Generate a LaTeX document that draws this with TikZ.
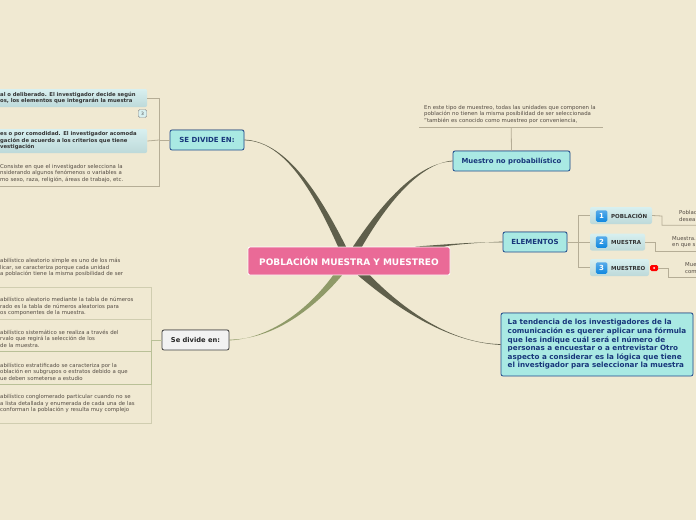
\documentclass[tikz,border=0pt]{standalone}
\usepackage{fontspec}
\setmainfont{DejaVu Sans}
\usepackage{xcolor}
\usetikzlibrary{shadows,calc}
\definecolor{paper}{HTML}{F0E9D2}
\definecolor{rootpink}{HTML}{EA6A97}
\definecolor{topicteal}{HTML}{A9E9E3}
\definecolor{topicblue}{HTML}{1F4A8C}
\definecolor{textblue}{HTML}{17367A}
\definecolor{subgrey}{HTML}{544C44}
\definecolor{branchdark}{HTML}{5F5F4B}
\definecolor{brancholive}{HTML}{8F9A68}
\definecolor{linetan}{HTML}{B5AD96}
\definecolor{lineolive}{HTML}{B9C097}
\definecolor{linepale}{HTML}{D0CDB0}
\definecolor{tiletop}{HTML}{D8F0F0}
\definecolor{tilebottom}{HTML}{BDD9D9}
\definecolor{iconblue}{HTML}{1088E0}

\begin{document}
\begin{tikzpicture}[
    x=1pt, y=-1pt,
    rootbox/.style={rectangle, draw=white, line width=0.8pt, fill=rootpink, rounded corners=2pt,
                minimum width=202pt, minimum height=28pt, inner sep=0pt, text=white,
                font=\fontsize{9}{11}\selectfont\bfseries},
    topic/.style={rectangle, draw=topicblue, line width=0.8pt, fill=topicteal, rounded corners=2pt,
                inner sep=0pt, text=textblue, font=\fontsize{7}{8}\selectfont\bfseries,
                drop shadow={opacity=.25, shadow xshift=.4pt, shadow yshift=.8pt}},
    greybox/.style={topic, draw=black!75, fill=black!5, text=black!85},
    tile/.style={rectangle, rounded corners=2pt, top color=tiletop, bottom color=tilebottom,
                inner sep=0pt, font=\fontsize{5.3}{6.5}\selectfont\bfseries, text=black!80},
    sidetile/.style={tile, anchor=west, inner xsep=5pt, inner ysep=0pt, align=left, text width=142pt},
    tilelabel/.style={anchor=west, inner sep=0pt, font=\fontsize{5.5}{6.5}\selectfont\bfseries, text=black!80},
    subtext/.style={rectangle, anchor=west, inner xsep=5pt, inner ysep=0pt, align=left,
                font=\fontsize{5.4}{6.5}\selectfont, text=subgrey},
    numicon/.style={rectangle, rounded corners=1.5pt, top color=iconblue!70!white, bottom color=iconblue, text=white, inner sep=0pt,
                minimum size=11.5pt, font=\fontsize{7}{8}\selectfont\bfseries},
    tan/.style={draw=linetan, line width=0.8pt},
    olive/.style={draw=lineolive, line width=0.8pt},
    pale/.style={draw=linepale, line width=0.8pt},
]
    \useasboundingbox[fill=paper] (0,0) rectangle (696,520);

    \node[rootbox] (root) at (349,261) {POBLACIÓN MUESTRA Y MUESTREO};
    \node[topic, minimum width=74pt, minimum height=20pt] (sedivide) at (207,140) {SE DIVIDE EN:};
    \node[topic, minimum width=117pt, minimum height=20pt, font=\fontsize{6.9}{8}\selectfont\bfseries] (noprob) at (511.5,161) {Muestro no probabilístico};
    \node[topic, minimum width=64pt, minimum height=20pt] (elementos) at (535,242) {ELEMENTOS};
    \node[greybox, minimum width=67pt, minimum height=20pt, font=\fontsize{6.7}{8}\selectfont\bfseries] (sedivideb) at (195.5,340) {Se divide en:};
    \node[topic, minimum width=192pt, minimum height=63pt, align=left,
          font=\fontsize{7.2}{8.6}\selectfont\bfseries] (tendencia) at (597,344.5)
        {La tendencia de los investigadores de la\\comunicación es querer aplicar una fórmula\\que les indique cuál será el número de\\personas a encuestar o a entrevistar Otro\\aspecto a considerar es la lógica que tiene\\el investigador para seleccionar la muestra};

    % Branches out of the central node
    \fill[branchdark] ([xshift=-11pt]root.north) .. controls (311,186) and (282,140.6) .. ([yshift=-.4pt]sedivide.east)
        -- ([yshift=.4pt]sedivide.east) .. controls (283,141.5) and (315,185) .. ([xshift=-3pt]root.north) -- cycle;
    \fill[branchdark] ([xshift=4pt]root.north) .. controls (384,200) and (419,162.5) .. ([yshift=-.4pt]noprob.west)
        -- ([yshift=.4pt]noprob.west) .. controls (420,163.5) and (388,202) .. ([xshift=13pt]root.north) -- cycle;
    \fill[branchdark] ([xshift=66pt]root.north) .. controls (450,244) and (480,241.7) .. ([yshift=-.4pt]elementos.west)
        -- ([yshift=.4pt]elementos.west) .. controls (480,242.4) and (450,245) .. ([xshift=95pt]root.north) -- cycle;
    \fill[brancholive] ([xshift=-16pt]root.south) .. controls (307,311) and (269,338.5) .. ([yshift=-.4pt]sedivideb.east)
        -- ([yshift=.4pt]sedivideb.east) .. controls (271,339.5) and (311,312) .. ([xshift=-7pt]root.south) -- cycle;
    \fill[branchdark] ([xshift=9pt]root.south) .. controls (400,311) and (450,342.5) .. ([yshift=-.4pt]tendencia.west)
        -- ([yshift=.4pt]tendencia.west) .. controls (451,343.5) and (404,310) .. ([xshift=21pt]root.south) -- cycle;

    % Upper left group
    \node[sidetile, minimum height=18pt] (deliberado) at (-5,98) {al o deliberado. El investigador decide según\\os, los elementos que integrarán la muestra};
    \node[sidetile, minimum height=24pt] (comodidad) at (-5,141) {es o por comodidad. El investigador acomoda\\gación de acuerdo a los criterios que tiene\\vestigación};
    \node[rectangle, draw=black!45, fill=tiletop, rounded corners=1.5pt, inner sep=0pt, minimum width=8.5pt, minimum height=8pt,
          font=\fontsize{4.5}{5}\selectfont, text=black!70] (nota) at (142.5,113.5) {3};
    \node[subtext, text width=159pt, minimum height=25pt] (consiste) at (-5,173.5) {Consiste en que el investigador selecciona la\\nsiderando algunos fenómenos o variables a\\mo sexo, raza, religión, áreas de trabajo, etc.};
    \coordinate (sejoin) at (159,140);
    \draw[tan] (sedivide.west) -- (sejoin);
    \draw[tan] (sejoin) |- (deliberado.east);
    \draw[tan] (sejoin) -- (comodidad.east);
    \draw[tan] (sejoin) |- (consiste.south west);

    % Lower left group
    \node[subtext, text width=146pt, minimum height=39pt] (simple) at (-5,267.5) {abilístico aleatorio simple es uno de los más\\licar, se caracteriza porque cada unidad\\a población tiene la misma posibilidad de ser};
    \node[subtext, text width=146pt, minimum height=26pt] (tabla) at (-5,306.5) {abilístico aleatorio mediante la tabla de números\\rado es la tabla de números aleatorios para\\os componentes de la muestra.};
    \node[subtext, text width=146pt, minimum height=25pt] (sistematico) at (-5,338.5) {abilístico sistemático se realiza a través del\\rvalo que regirá la selección de los\\de la muestra.};
    \node[subtext, text width=146pt, minimum height=25pt] (estratificado) at (-5,371.5) {abilístico estratificado se caracteriza por la\\oblación en subgrupos o estratos debido a que\\ue deben someterse a estudio};
    \node[subtext, text width=146pt, minimum height=39pt] (conglomerado) at (-5,403.5) {abilístico conglomerado particular cuando no se\\a lista detallada y enumerada de cada una de las\\conforman la población y resulta muy complejo};
    \coordinate (bjoin) at (151,340);
    \draw[pale] (bjoin) |- (simple.south west);
    \draw[pale] (bjoin) |- (conglomerado.south west);
    \draw[pale] (bjoin) |- (tabla.south west);
    \draw[olive] (bjoin) |- (sistematico.south west);
    \draw[olive] (bjoin) |- (estratificado.south west);
    \draw[olive] (sedivideb.west) -- (bjoin);

    % Upper right note
    \node[subtext, text width=174pt, minimum height=26pt] (tipo) at (419,114.5) {En este tipo de muestreo, todas las unidades que componen la\\población no tienen la misma posibilidad de ser seleccionada\\"también es conocido como muestreo por conveniencia,};
    \draw[tan] (tipo.south west) -- (tipo.south east);
    \draw[tan] (noprob.north) -- (tipo.south);

    % Elementos
    \node[tile, minimum width=62pt, minimum height=17pt] (tpoblacion) at (621,215.5) {};
    \node[tile, minimum width=55pt, minimum height=17pt] (tmuestra) at (617.5,242) {};
    \node[tile, minimum width=59pt, minimum height=17pt] (tmuestreo) at (619.5,267.5) {};
    \node[numicon] (ia) at (601.5,216) {1};
    \node[numicon] (ib) at (601.5,242) {2};
    \node[numicon] (ic) at (601.5,268) {3};
    \node[tilelabel] (lpoblacion) at (611,216) {POBLACIÓN};
    \node[tilelabel] (lmuestra) at (611,242) {MUESTRA};
    \node[tilelabel] (lmuestreo) at (611,268) {MUESTREO};
    \node[rectangle, fill=red, rounded corners=1.5pt, inner sep=0pt, minimum width=8pt, minimum height=6pt] (marca) at (654,268) {};
    \fill[white] (marca.center) circle (1pt);

    \node[subtext, text width=18pt, minimum height=18pt] (dpoblacion) at (674,216) {Poblac\\desea};
    \node[subtext, text width=25pt, minimum height=19pt] (dmuestra) at (667,242) {Muestra.\\en que s};
    \node[subtext, text width=12pt, minimum height=18pt] (dmuestreo) at (680,268) {Mue\\com};

    \coordinate (ejoin) at (578,242);
    \draw[tan] (elementos.east) -- (ejoin);
    \draw[tan] (ejoin) |- (tpoblacion.west);
    \draw[tan] (ejoin) -- (tmuestra.west);
    \draw[tan] (ejoin) |- (tmuestreo.west);
    \coordinate (ja) at (662,216);
    \coordinate (jb) at (655,242);
    \coordinate (jc) at (668.5,268);
    \draw[tan] (tpoblacion.east) -- (ja) |- (dpoblacion.south east);
    \draw[tan] (tmuestra.east) -- (jb) |- (dmuestra.south east);
    \draw[tan] (marca.east) -- (jc) |- (dmuestreo.south east);
\end{tikzpicture}
\end{document}
